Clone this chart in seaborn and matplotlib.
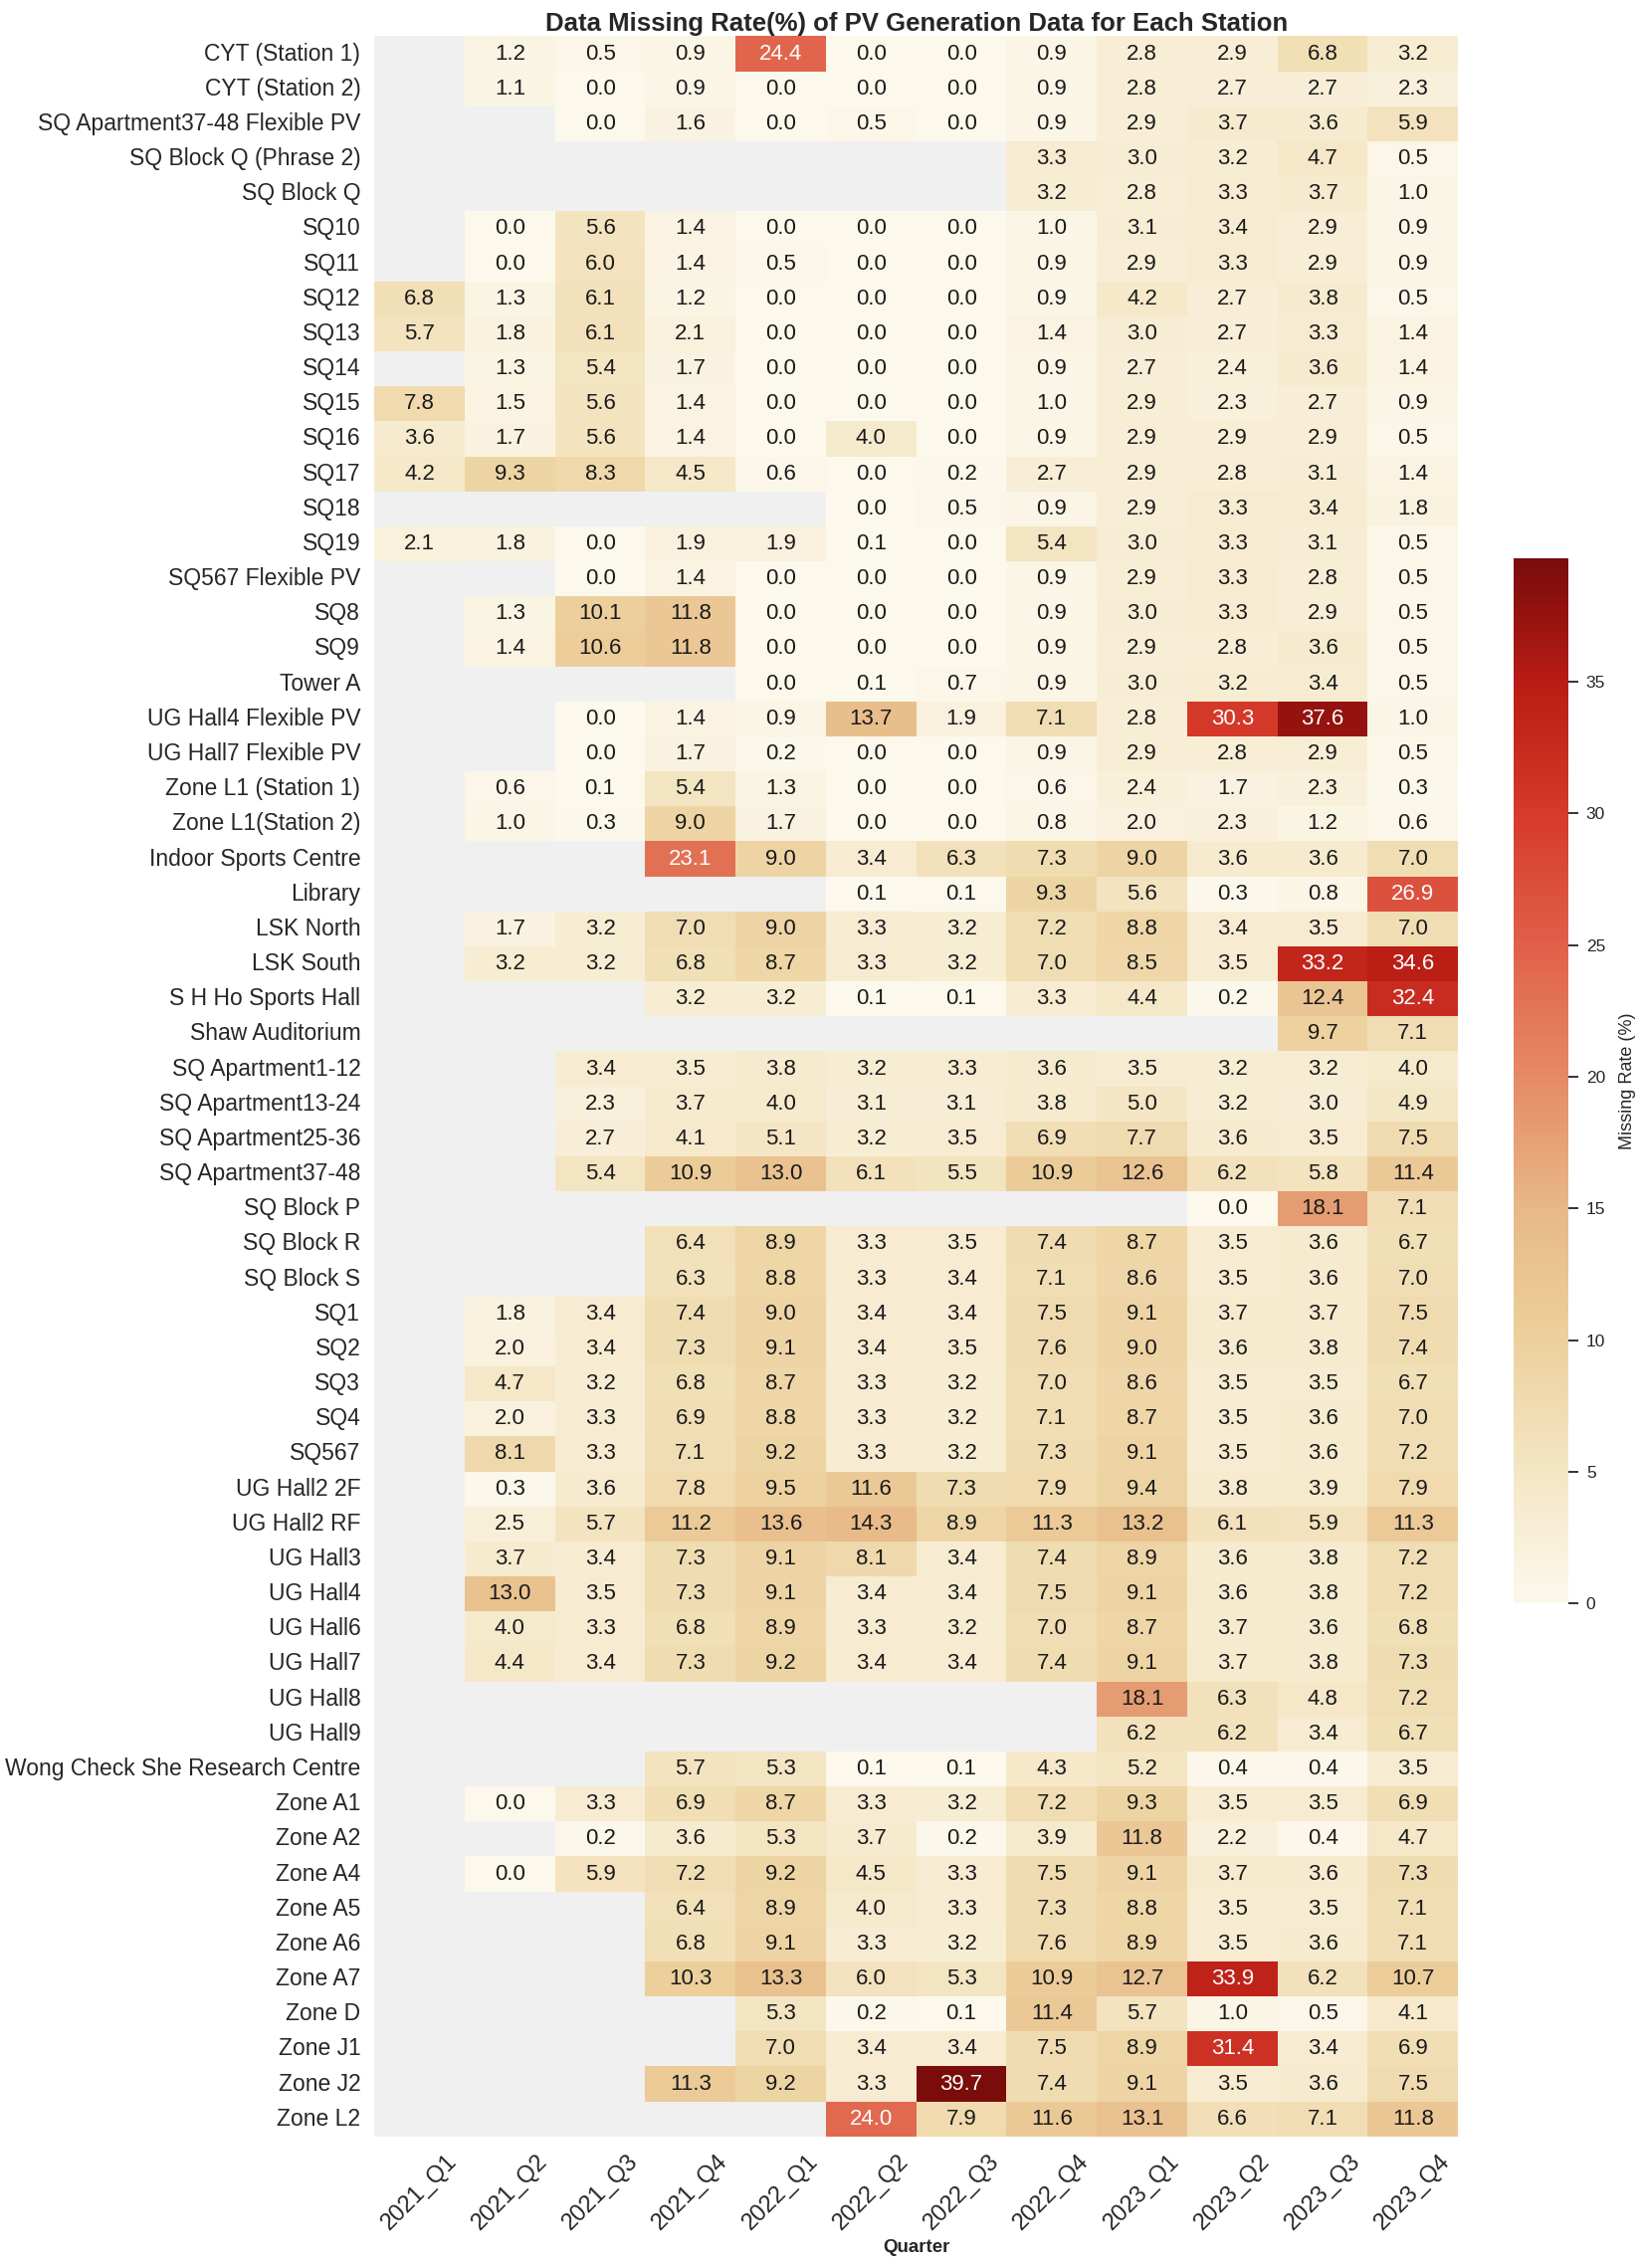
import numpy as np
import pandas as pd
import seaborn as sns
import matplotlib.pyplot as plt
from matplotlib.colors import LinearSegmentedColormap

N = np.nan

stations = ['CYT (Station 1)', 'CYT (Station 2)', 'SQ Apartment37-48 Flexible PV',
            'SQ Block Q (Phrase 2)', 'SQ Block Q', 'SQ10', 'SQ11', 'SQ12', 'SQ13', 'SQ14',
            'SQ15', 'SQ16', 'SQ17', 'SQ18', 'SQ19', 'SQ567 Flexible PV', 'SQ8', 'SQ9',
            'Tower A', 'UG Hall4 Flexible PV', 'UG Hall7 Flexible PV', 'Zone L1 (Station 1)',
            'Zone L1(Station 2)', 'Indoor Sports Centre', 'Library', 'LSK North', 'LSK South',
            'S H Ho Sports Hall', 'Shaw Auditorium', 'SQ Apartment1-12', 'SQ Apartment13-24',
            'SQ Apartment25-36', 'SQ Apartment37-48', 'SQ Block P', 'SQ Block R', 'SQ Block S',
            'SQ1', 'SQ2', 'SQ3', 'SQ4', 'SQ567', 'UG Hall2 2F', 'UG Hall2 RF', 'UG Hall3',
            'UG Hall4', 'UG Hall6', 'UG Hall7', 'UG Hall8', 'UG Hall9',
            'Wong Check She Research Centre', 'Zone A1', 'Zone A2', 'Zone A4', 'Zone A5',
            'Zone A6', 'Zone A7', 'Zone D', 'Zone J1', 'Zone J2', 'Zone L2']

quarters = ['2021_Q1', '2021_Q2', '2021_Q3', '2021_Q4', '2022_Q1', '2022_Q2',
            '2022_Q3', '2022_Q4', '2023_Q1', '2023_Q2', '2023_Q3', '2023_Q4']

# missing rate (%) per quarter, one value per station (same order as stations)
q2021_1 = [N, N, N, N, N, N, N, 6.8, 5.7, N,
           7.8, 3.6, 4.2, N, 2.1, N, N, N, N, N,
           N, N, N, N, N, N, N, N, N, N,
           N, N, N, N, N, N, N, N, N, N,
           N, N, N, N, N, N, N, N, N, N,
           N, N, N, N, N, N, N, N, N, N]
q2021_2 = [1.2, 1.1, N, N, N, 0.0, 0.0, 1.3, 1.8, 1.3,
           1.5, 1.7, 9.3, N, 1.8, N, 1.3, 1.4, N, N,
           N, 0.6, 1.0, N, N, 1.7, 3.2, N, N, N,
           N, N, N, N, N, N, 1.8, 2.0, 4.7, 2.0,
           8.1, 0.3, 2.5, 3.7, 13.0, 4.0, 4.4, N, N, N,
           0.0, N, 0.0, N, N, N, N, N, N, N]
q2021_3 = [0.5, 0.0, 0.0, N, N, 5.6, 6.0, 6.1, 6.1, 5.4,
           5.6, 5.6, 8.3, N, 0.0, 0.0, 10.1, 10.6, N, 0.0,
           0.0, 0.1, 0.3, N, N, 3.2, 3.2, N, N, 3.4,
           2.3, 2.7, 5.4, N, N, N, 3.4, 3.4, 3.2, 3.3,
           3.3, 3.6, 5.7, 3.4, 3.5, 3.3, 3.4, N, N, N,
           3.3, 0.2, 5.9, N, N, N, N, N, N, N]
q2021_4 = [0.9, 0.9, 1.6, N, N, 1.4, 1.4, 1.2, 2.1, 1.7,
           1.4, 1.4, 4.5, N, 1.9, 1.4, 11.8, 11.8, N, 1.4,
           1.7, 5.4, 9.0, 23.1, N, 7.0, 6.8, 3.2, N, 3.5,
           3.7, 4.1, 10.9, N, 6.4, 6.3, 7.4, 7.3, 6.8, 6.9,
           7.1, 7.8, 11.2, 7.3, 7.3, 6.8, 7.3, N, N, 5.7,
           6.9, 3.6, 7.2, 6.4, 6.8, 10.3, N, N, 11.3, N]
q2022_1 = [24.4, 0.0, 0.0, N, N, 0.0, 0.5, 0.0, 0.0, 0.0,
           0.0, 0.0, 0.6, N, 1.9, 0.0, 0.0, 0.0, 0.0, 0.9,
           0.2, 1.3, 1.7, 9.0, N, 9.0, 8.7, 3.2, N, 3.8,
           4.0, 5.1, 13.0, N, 8.9, 8.8, 9.0, 9.1, 8.7, 8.8,
           9.2, 9.5, 13.6, 9.1, 9.1, 8.9, 9.2, N, N, 5.3,
           8.7, 5.3, 9.2, 8.9, 9.1, 13.3, 5.3, 7.0, 9.2, N]
q2022_2 = [0.0, 0.0, 0.5, N, N, 0.0, 0.0, 0.0, 0.0, 0.0,
           0.0, 4.0, 0.0, 0.0, 0.1, 0.0, 0.0, 0.0, 0.1, 13.7,
           0.0, 0.0, 0.0, 3.4, 0.1, 3.3, 3.3, 0.1, N, 3.2,
           3.1, 3.2, 6.1, N, 3.3, 3.3, 3.4, 3.4, 3.3, 3.3,
           3.3, 11.6, 14.3, 8.1, 3.4, 3.3, 3.4, N, N, 0.1,
           3.3, 3.7, 4.5, 4.0, 3.3, 6.0, 0.2, 3.4, 3.3, 24.0]
q2022_3 = [0.0, 0.0, 0.0, N, N, 0.0, 0.0, 0.0, 0.0, 0.0,
           0.0, 0.0, 0.2, 0.5, 0.0, 0.0, 0.0, 0.0, 0.7, 1.9,
           0.0, 0.0, 0.0, 6.3, 0.1, 3.2, 3.2, 0.1, N, 3.3,
           3.1, 3.5, 5.5, N, 3.5, 3.4, 3.4, 3.5, 3.2, 3.2,
           3.2, 7.3, 8.9, 3.4, 3.4, 3.2, 3.4, N, N, 0.1,
           3.2, 0.2, 3.3, 3.3, 3.2, 5.3, 0.1, 3.4, 39.7, 7.9]
q2022_4 = [0.9, 0.9, 0.9, 3.3, 3.2, 1.0, 0.9, 0.9, 1.4, 0.9,
           1.0, 0.9, 2.7, 0.9, 5.4, 0.9, 0.9, 0.9, 0.9, 7.1,
           0.9, 0.6, 0.8, 7.3, 9.3, 7.2, 7.0, 3.3, N, 3.6,
           3.8, 6.9, 10.9, N, 7.4, 7.1, 7.5, 7.6, 7.0, 7.1,
           7.3, 7.9, 11.3, 7.4, 7.5, 7.0, 7.4, N, N, 4.3,
           7.2, 3.9, 7.5, 7.3, 7.6, 10.9, 11.4, 7.5, 7.4, 11.6]
q2023_1 = [2.8, 2.8, 2.9, 3.0, 2.8, 3.1, 2.9, 4.2, 3.0, 2.7,
           2.9, 2.9, 2.9, 2.9, 3.0, 2.9, 3.0, 2.9, 3.0, 2.8,
           2.9, 2.4, 2.0, 9.0, 5.6, 8.8, 8.5, 4.4, N, 3.5,
           5.0, 7.7, 12.6, N, 8.7, 8.6, 9.1, 9.0, 8.6, 8.7,
           9.1, 9.4, 13.2, 8.9, 9.1, 8.7, 9.1, 18.1, 6.2, 5.2,
           9.3, 11.8, 9.1, 8.8, 8.9, 12.7, 5.7, 8.9, 9.1, 13.1]
q2023_2 = [2.9, 2.7, 3.7, 3.2, 3.3, 3.4, 3.3, 2.7, 2.7, 2.4,
           2.3, 2.9, 2.8, 3.3, 3.3, 3.3, 3.3, 2.8, 3.2, 30.3,
           2.8, 1.7, 2.3, 3.6, 0.3, 3.4, 3.5, 0.2, N, 3.2,
           3.2, 3.6, 6.2, 0.0, 3.5, 3.5, 3.7, 3.6, 3.5, 3.5,
           3.5, 3.8, 6.1, 3.6, 3.6, 3.7, 3.7, 6.3, 6.2, 0.4,
           3.5, 2.2, 3.7, 3.5, 3.5, 33.9, 1.0, 31.4, 3.5, 6.6]
q2023_3 = [6.8, 2.7, 3.6, 4.7, 3.7, 2.9, 2.9, 3.8, 3.3, 3.6,
           2.7, 2.9, 3.1, 3.4, 3.1, 2.8, 2.9, 3.6, 3.4, 37.6,
           2.9, 2.3, 1.2, 3.6, 0.8, 3.5, 33.2, 12.4, 9.7, 3.2,
           3.0, 3.5, 5.8, 18.1, 3.6, 3.6, 3.7, 3.8, 3.5, 3.6,
           3.6, 3.9, 5.9, 3.8, 3.8, 3.6, 3.8, 4.8, 3.4, 0.4,
           3.5, 0.4, 3.6, 3.5, 3.6, 6.2, 0.5, 3.4, 3.6, 7.1]
q2023_4 = [3.2, 2.3, 5.9, 0.5, 1.0, 0.9, 0.9, 0.5, 1.4, 1.4,
           0.9, 0.5, 1.4, 1.8, 0.5, 0.5, 0.5, 0.5, 0.5, 1.0,
           0.5, 0.3, 0.6, 7.0, 26.9, 7.0, 34.6, 32.4, 7.1, 4.0,
           4.9, 7.5, 11.4, 7.1, 6.7, 7.0, 7.5, 7.4, 6.7, 7.0,
           7.2, 7.9, 11.3, 7.2, 7.2, 6.8, 7.3, 7.2, 6.7, 3.5,
           6.9, 4.7, 7.3, 7.1, 7.1, 10.7, 4.1, 6.9, 7.5, 11.8]

cols = [q2021_1, q2021_2, q2021_3, q2021_4, q2022_1, q2022_2,
        q2022_3, q2022_4, q2023_1, q2023_2, q2023_3, q2023_4]
df = pd.DataFrame(dict(zip(quarters, cols)), index=stations)

sns.set_theme(style='white')
plt.rcParams['font.family'] = ['Liberation Sans', 'DejaVu Sans']

cmap = LinearSegmentedColormap.from_list('missing', [
    (0.0, '#fcf8ec'), (0.126, '#f4e6c4'), (0.252, '#ecd09c'), (0.378, '#e8b888'),
    (0.504, '#e58a64'), (0.63, '#e0604a'), (0.756, '#d63a2a'), (0.882, '#b81c14'),
    (1.0, '#7a0c0c')])

fig = plt.figure(figsize=(16.5, 22.79), dpi=100)
ax = fig.add_axes([0.228, 0.058, 0.660, 0.926])
cax = fig.add_axes([0.922, 0.293, 0.033, 0.461])
ax.set_facecolor('#f0f0f0')

sns.heatmap(df, ax=ax, cbar_ax=cax, cmap=cmap, annot=True, fmt='.1f',
            annot_kws={'size': 16}, cbar_kws={'label': 'Missing Rate (%)'})

# dark text on light cells, white on the red ones
for t in ax.texts:
    t.set_color('white' if float(t.get_text()) > 20 else '#1a1a1a')

ax.set_title('Data Missing Rate(%) of PV Generation Data for Each Station',
             fontsize=18.5, fontweight='bold', pad=4)
ax.set_xlabel('Quarter', fontsize=13.5, fontweight='bold', labelpad=4)
ax.set_ylabel('')
ax.tick_params(axis='y', labelsize=16.5, length=0, rotation=0, pad=10)
ax.tick_params(axis='x', labelsize=17, length=0, pad=10)
plt.setp(ax.get_xticklabels(), rotation=45)

cax.tick_params(labelsize=12.5, right=True, length=7, width=1.4, color='#333333', pad=6)
cax.yaxis.label.set_size(13)
cax.yaxis.labelpad = 10
cax.set_frame_on(False)

fig.savefig('out.png', dpi=100)
